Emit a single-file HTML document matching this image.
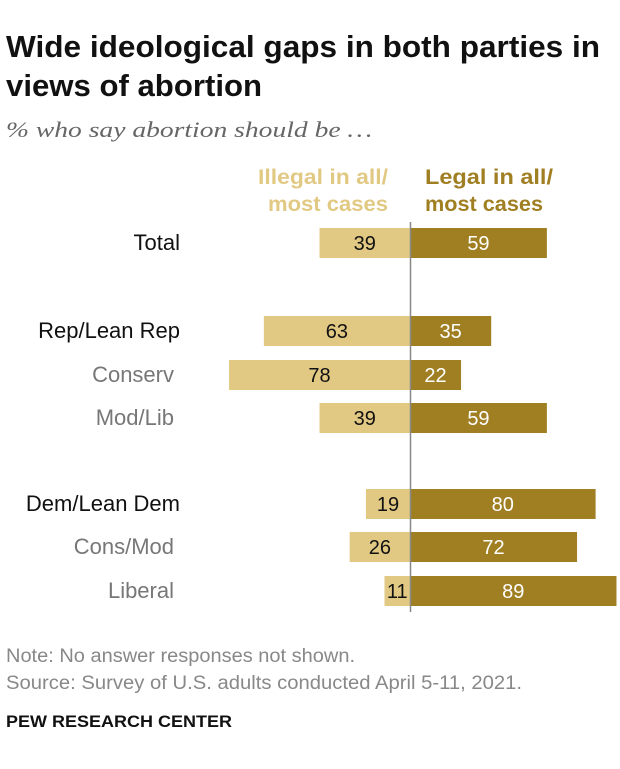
<!DOCTYPE html>
<html><head><meta charset="utf-8"><style>
body{margin:0;background:#fff;width:620px;height:764px;overflow:hidden;font-family:"Liberation Sans",sans-serif}
</style></head><body>
<svg width="620" height="764" xmlns="http://www.w3.org/2000/svg" font-family="Liberation Sans, sans-serif">
<text x="6" y="57" font-size="31" font-weight="bold" fill="#111" textLength="594" lengthAdjust="spacingAndGlyphs">Wide ideological gaps in both parties in</text>
<text x="6" y="96" font-size="31" font-weight="bold" fill="#111" textLength="256" lengthAdjust="spacingAndGlyphs">views of abortion</text>
<text x="6" y="137" font-size="22" font-style="italic" fill="#666" font-family="Liberation Serif, serif" textLength="366" lengthAdjust="spacingAndGlyphs">% who say abortion should be …</text>
<text x="258" y="184" font-size="21" font-weight="bold" fill="#e2c983" textLength="130" lengthAdjust="spacingAndGlyphs">Illegal in all/</text>
<text x="268" y="211" font-size="21" font-weight="bold" fill="#e2c983" textLength="120" lengthAdjust="spacingAndGlyphs">most cases</text>
<text x="425" y="184" font-size="21" font-weight="bold" fill="#a07f22" textLength="128" lengthAdjust="spacingAndGlyphs">Legal in all/</text>
<text x="425" y="211" font-size="21" font-weight="bold" fill="#a07f22" textLength="118" lengthAdjust="spacingAndGlyphs">most cases</text>
<g id="bars"></g>
<line x1="410.5" y1="222" x2="410.5" y2="612" stroke="#888" stroke-width="1.5"/>
<text x="6" y="662" font-size="19" fill="#888" textLength="349" lengthAdjust="spacingAndGlyphs">Note: No answer responses not shown.</text>
<text x="6" y="689" font-size="19" fill="#888" textLength="516" lengthAdjust="spacingAndGlyphs">Source: Survey of U.S. adults conducted April 5-11, 2021.</text>
<text x="6" y="727" font-size="17" font-weight="bold" fill="#111" textLength="226" lengthAdjust="spacingAndGlyphs">PEW RESEARCH CENTER</text>
</svg>
<script>
const categories=["Total","Rep/Lean Rep","Conserv","Mod/Lib","Dem/Lean Dem","Cons/Mod","Liberal"];
const illegal=[39,63,78,39,19,26,11];
const legal=[59,35,22,59,80,72,89];
const rowY=[243,331,375,418,504,547,591];
const primary=[true,true,false,false,true,false,false];
const cx=410, k=2.32, bh=30;
const g=document.getElementById('bars');
const NS="http://www.w3.org/2000/svg";
function mk(t,a){const e=document.createElementNS(NS,t);for(const n in a)e.setAttribute(n,a[n]);return e;}
categories.forEach((c,i)=>{
  const y=rowY[i];
  const lab=mk('text',{x:primary[i]?180:174,y:y+7,'font-size':22,fill:primary[i]?'#111':'#777','text-anchor':'end'});
  lab.textContent=c;
  
  
  g.appendChild(lab);
  const wl=illegal[i]*k;
  const r1=mk('rect',{x:cx-wl,y:y-bh/2,width:wl,height:bh,fill:'#e2c983'});
  
  
  g.appendChild(r1);
  const t1=mk('text',{x:cx-wl/2,y:y+7,'font-size':20,fill:'#111','text-anchor':'middle'});
  t1.textContent=illegal[i];
  
  
  g.appendChild(t1);
  const wr=legal[i]*k;
  const r2=mk('rect',{x:cx,y:y-bh/2,width:wr,height:bh,fill:'#a07f22'});
  
  
  g.appendChild(r2);
  const t2=mk('text',{x:cx+wr/2,y:y+7,'font-size':20,fill:'#fff','text-anchor':'middle'});
  t2.textContent=legal[i];
  
  
  g.appendChild(t2);
});
</script>
</body></html>
